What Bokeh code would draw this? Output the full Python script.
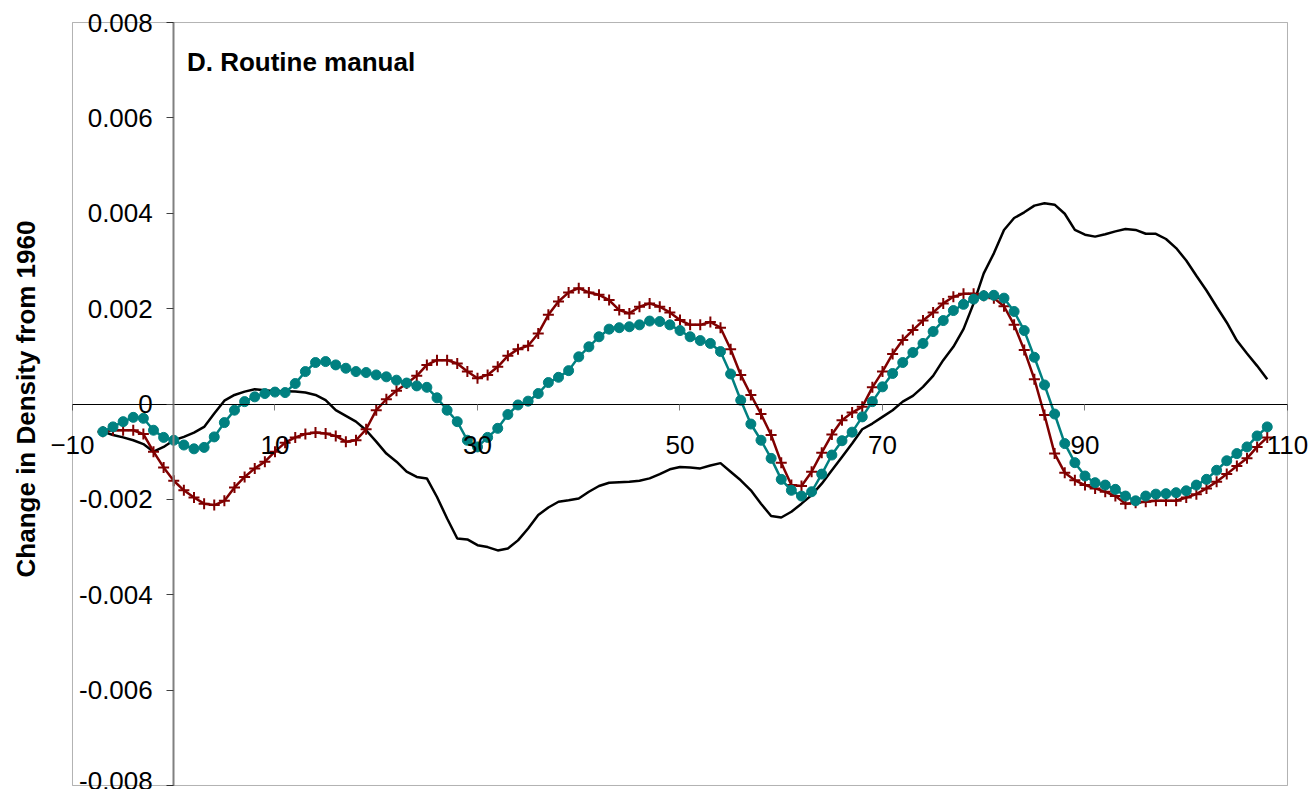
from bokeh.plotting import figure
from bokeh.models import (FixedTicker, CustomJSTickFormatter, Label, Title,
                          ColumnDataSource, BoxAnnotation)
from bokeh.embed import file_html
from bokeh.resources import INLINE

x_vals = list(range(-7, 109))

series_black = [
    -0.00058, -0.00065, -0.00070, -0.00076, -0.00084, -0.00100, -0.00090, -0.00076, -0.00069, -0.00060,
    -0.00048, -0.00020, 0.00007, 0.00019, 0.00026, 0.00031, 0.00029, 0.00027, 0.00027, 0.00026,
    0.00024, 0.00019, 0.00008, -0.00013, -0.00025, -0.00037, -0.00055, -0.00079, -0.00104, -0.00121,
    -0.00142, -0.00153, -0.00156, -0.00195, -0.00240, -0.00282, -0.00284, -0.00296, -0.00300, -0.00307,
    -0.00303, -0.00286, -0.00261, -0.00233, -0.00217, -0.00205, -0.00202, -0.00198, -0.00184, -0.00172,
    -0.00165, -0.00164, -0.00163, -0.00161, -0.00156, -0.00147, -0.00137, -0.00132, -0.00133, -0.00135,
    -0.00129, -0.00124, -0.00142, -0.00160, -0.00181, -0.00209, -0.00235, -0.00238, -0.00226, -0.00209,
    -0.00191, -0.00167, -0.00139, -0.00111, -0.00083, -0.00053, -0.00041, -0.00027, -0.00013, 0.00005,
    0.00017, 0.00036, 0.00059, 0.00092, 0.00120, 0.00157, 0.00211, 0.00274, 0.00316, 0.00365,
    0.00390, 0.00402, 0.00416, 0.00421, 0.00418, 0.00399, 0.00365, 0.00355, 0.00351, 0.00356,
    0.00362, 0.00367, 0.00365, 0.00357, 0.00357, 0.00346, 0.00327, 0.00301, 0.00269, 0.00238,
    0.00204, 0.00171, 0.00133, 0.00106, 0.00080, 0.00052,
]

series_teal = [
    -0.00058, -0.00048, -0.00037, -0.00028, -0.00030, -0.00055, -0.00070, -0.00076, -0.00086, -0.00094,
    -0.00091, -0.00069, -0.00039, -0.00013, 0.00005, 0.00015, 0.00022, 0.00025, 0.00024, 0.00043,
    0.00068, 0.00087, 0.00089, 0.00082, 0.00075, 0.00068, 0.00066, 0.00061, 0.00057, 0.00050,
    0.00044, 0.00038, 0.00035, 0.00013, -0.00013, -0.00037, -0.00076, -0.00090, -0.00070, -0.00051,
    -0.00022, -0.00002, 0.00006, 0.00022, 0.00045, 0.00056, 0.00070, 0.00099, 0.00120, 0.00141,
    0.00157, 0.00160, 0.00162, 0.00166, 0.00174, 0.00173, 0.00166, 0.00154, 0.00141, 0.00133,
    0.00127, 0.00110, 0.00063, 0.00008, -0.00042, -0.00076, -0.00114, -0.00158, -0.00181, -0.00193,
    -0.00184, -0.00147, -0.00107, -0.00077, -0.00059, -0.00027, 0.00005, 0.00036, 0.00064, 0.00087,
    0.00108, 0.00127, 0.00152, 0.00175, 0.00196, 0.00209, 0.00220, 0.00227, 0.00228, 0.00222,
    0.00194, 0.00154, 0.00098, 0.00040, -0.00021, -0.00083, -0.00123, -0.00151, -0.00165, -0.00170,
    -0.00179, -0.00193, -0.00203, -0.00193, -0.00189, -0.00188, -0.00186, -0.00182, -0.00170, -0.00158,
    -0.00139, -0.00119, -0.00104, -0.00090, -0.00067, -0.00048,
]

series_red = [
    -0.00058, -0.00055, -0.00055, -0.00055, -0.00063, -0.00100, -0.00133, -0.00161, -0.00181, -0.00196,
    -0.00209, -0.00212, -0.00203, -0.00175, -0.00153, -0.00135, -0.00121, -0.00100, -0.00081, -0.00070,
    -0.00063, -0.00060, -0.00062, -0.00067, -0.00079, -0.00076, -0.00053, -0.00013, 0.00010, 0.00028,
    0.00043, 0.00059, 0.00082, 0.00092, 0.00092, 0.00085, 0.00068, 0.00054, 0.00061, 0.00078,
    0.00101, 0.00115, 0.00122, 0.00148, 0.00187, 0.00215, 0.00234, 0.00243, 0.00234, 0.00229,
    0.00218, 0.00197, 0.00190, 0.00204, 0.00211, 0.00204, 0.00192, 0.00176, 0.00166, 0.00166,
    0.00172, 0.00160, 0.00115, 0.00061, 0.00019, -0.00021, -0.00065, -0.00123, -0.00170, -0.00172,
    -0.00142, -0.00102, -0.00064, -0.00034, -0.00018, -0.00006, 0.00035, 0.00068, 0.00105, 0.00134,
    0.00155, 0.00175, 0.00192, 0.00211, 0.00225, 0.00231, 0.00231, 0.00227, 0.00222, 0.00205,
    0.00166, 0.00113, 0.00052, -0.00023, -0.00104, -0.00144, -0.00160, -0.00170, -0.00177, -0.00184,
    -0.00193, -0.00209, -0.00207, -0.00205, -0.00203, -0.00203, -0.00203, -0.00196, -0.00189, -0.00177,
    -0.00163, -0.00147, -0.00130, -0.00114, -0.00090, -0.00070,
]

x_ticks = [-10, 10, 30, 50, 70, 90, 110]
y_ticks = [-0.008, -0.006, -0.004, -0.002, 0.0, 0.002, 0.004, 0.006, 0.008]
x_box = (-10, 110)
y_box = (-0.008, 0.008)

panel_title = "D. Routine manual"
y_title = "Change in Density from 1960"

FONT = "Liberation Sans"

source = ColumnDataSource(data=dict(x=x_vals, black=series_black, teal=series_teal, red=series_red))

# the drawn box spans x_box/y_box; the frame is a little larger so that
# edge tick labels are not clipped
p = figure(
    frame_width=1264, frame_height=781,
    x_range=(-12.37, 112.47), y_range=(-0.008084, 0.008294),
    output_backend="svg", toolbar_location=None,
    min_border_left=48, min_border_right=0, min_border_top=8, min_border_bottom=0,
)
p.grid.visible = False
p.outline_line_color = None
p.background_fill_color = "white"
p.border_fill_color = "white"

p.add_layout(BoxAnnotation(left=x_box[0], right=x_box[1], bottom=y_box[0], top=y_box[1],
                           fill_color=None, line_color="black", line_width=1))

xa = p.xaxis[0]
xa.fixed_location = 0
xa.bounds = x_box
xa.ticker = FixedTicker(ticks=x_ticks)
xa.axis_line_color = "black"
xa.axis_line_width = 1
xa.major_tick_in = 0
xa.major_tick_out = 6
xa.major_tick_line_color = "#808080"
xa.minor_tick_line_color = None
xa.major_label_text_font = FONT
xa.major_label_text_font_size = "26px"
xa.major_label_text_color = "black"
xa.major_label_standoff = 26

ya = p.yaxis[0]
ya.fixed_location = 0
ya.bounds = y_box
ya.ticker = FixedTicker(ticks=y_ticks)
ya.formatter = CustomJSTickFormatter(code="return Math.abs(tick) < 1e-12 ? '0' : tick.toFixed(3);")
ya.axis_line_color = "#808080"
ya.axis_line_width = 2
ya.major_tick_in = 0
ya.major_tick_out = 7
ya.major_tick_line_color = "#404040"
ya.minor_tick_line_color = None
ya.major_label_text_font = FONT
ya.major_label_text_font_size = "26px"
ya.major_label_text_color = "black"
ya.major_label_standoff = 14

p.add_layout(Title(text=y_title, align="center", vertical_align="top", text_font=FONT,
                   text_font_size="26px", text_font_style="bold", text_color="black",
                   standoff=12), "left")

p.line("x", "black", source=source, line_color="black", line_width=2.5)
p.line("x", "red", source=source, line_color="#800000", line_width=2.5)
p.scatter("x", "red", source=source, marker="cross", size=11, line_color="#800000", line_width=2)
p.line("x", "teal", source=source, line_color="#008080", line_width=2.5)
p.scatter("x", "teal", source=source, marker="circle", size=10, fill_color="#008080", line_color="#008080")

p.add_layout(Label(x=1.3, y=0.00718, text=panel_title, text_font=FONT, text_font_size="26px",
                   text_font_style="bold", text_color="black", text_baseline="alphabetic"))

open("out.html", "w").write(file_html(p, INLINE))
